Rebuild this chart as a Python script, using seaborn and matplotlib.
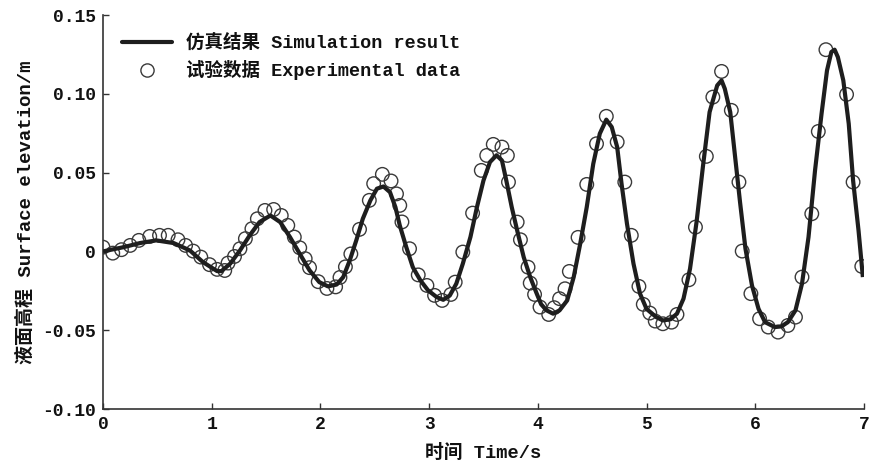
import numpy as np
import pandas as pd
import matplotlib
matplotlib.use("Agg")
import matplotlib.pyplot as plt
import seaborn as sns
from matplotlib.lines import Line2D

# ---- data ----
sim_t = [0.00, 0.19, 0.34, 0.49, 0.65, 0.80, 0.92, 1.05, 1.09, 1.17, 1.26, 1.35, 1.44, 1.54,
         1.63, 1.72, 1.81, 1.90, 1.99, 2.07, 2.15, 2.21, 2.27, 2.33, 2.39, 2.46, 2.52, 2.58,
         2.64, 2.69, 2.73, 2.79, 2.85, 2.92, 2.99, 3.07, 3.13, 3.19, 3.25, 3.31, 3.38, 3.44,
         3.50, 3.56, 3.62, 3.67, 3.71, 3.76, 3.81, 3.87, 3.93, 3.99, 4.03, 4.08, 4.14, 4.20,
         4.27, 4.33, 4.39, 4.45, 4.51, 4.57, 4.63, 4.68, 4.73, 4.77, 4.82, 4.88, 4.94, 5.00,
         5.09, 5.15, 5.22, 5.28, 5.34, 5.40, 5.46, 5.52, 5.58, 5.65, 5.69, 5.72, 5.77, 5.81,
         5.86, 5.91, 5.97, 6.03, 6.09, 6.18, 6.24, 6.30, 6.37, 6.43, 6.49, 6.55, 6.61, 6.66,
         6.70, 6.73, 6.76, 6.81, 6.86, 6.90, 6.95, 6.99]
sim_y = [0.0000, 0.0027, 0.0053, 0.0070, 0.0053, 0.0006, -0.0068, -0.0125, -0.0125, -0.0078,
         0.0006, 0.0102, 0.0186, 0.0228, 0.0186, 0.0091, -0.0015, -0.0120, -0.0195, -0.0222,
         -0.0210, -0.0163, -0.0057, 0.0070, 0.0207, 0.0324, 0.0398, 0.0412, 0.0376, 0.0281,
         0.0165, 0.0027, -0.0100, -0.0184, -0.0247, -0.0290, -0.0307, -0.0280, -0.0205, -0.0078,
         0.0091, 0.0281, 0.0450, 0.0567, 0.0610, 0.0577, 0.0450, 0.0281, 0.0133, -0.0036,
         -0.0163, -0.0268, -0.0335, -0.0374, -0.0395, -0.0374, -0.0311, -0.0163, 0.0049, 0.0281,
         0.0556, 0.0747, 0.0836, 0.0789, 0.0662, 0.0430, 0.0176, -0.0078, -0.0268, -0.0365,
         -0.0417, -0.0438, -0.0431, -0.0395, -0.0300, -0.0110, 0.0186, 0.0546, 0.0884, 0.1053,
         0.1085, 0.1032, 0.0884, 0.0630, 0.0313, 0.0017, -0.0216, -0.0364, -0.0449, -0.0480,
         -0.0476, -0.0449, -0.0374, -0.0205, 0.0091, 0.0514, 0.0874, 0.1148, 0.1265, 0.1280,
         0.1233, 0.1085, 0.0810, 0.0450, 0.0133, -0.0163]

exp_t = [0.00, 0.09, 0.17, 0.25, 0.33, 0.43, 0.52, 0.60, 0.69, 0.76, 0.83, 0.90, 0.98, 1.05,
         1.12, 1.15, 1.21, 1.26, 1.31, 1.37, 1.42, 1.49, 1.57, 1.64, 1.70, 1.76, 1.81, 1.86,
         1.90, 1.98, 2.06, 2.14, 2.18, 2.23, 2.28, 2.36, 2.45, 2.49, 2.57, 2.65, 2.70, 2.73,
         2.75, 2.82, 2.90, 2.98, 3.05, 3.12, 3.20, 3.24, 3.31, 3.40, 3.48, 3.53, 3.59, 3.67,
         3.72, 3.73, 3.81, 3.84, 3.91, 3.93, 3.97, 4.02, 4.10, 4.15, 4.20, 4.25, 4.29, 4.37,
         4.45, 4.54, 4.63, 4.73, 4.80, 4.86, 4.93, 4.97, 5.03, 5.08, 5.15, 5.23, 5.28, 5.39,
         5.45, 5.55, 5.61, 5.69, 5.78, 5.85, 5.88, 5.96, 6.04, 6.12, 6.21, 6.30, 6.37, 6.43,
         6.52, 6.58, 6.65, 6.84, 6.90, 6.98]
exp_y = [0.0027, -0.0011, 0.0011, 0.0038, 0.0070, 0.0095, 0.0102, 0.0102, 0.0074, 0.0038,
         0.0002, -0.0036, -0.0084, -0.0114, -0.0121, -0.0074, -0.0032, 0.0017, 0.0081, 0.0144,
         0.0207, 0.0260, 0.0266, 0.0228, 0.0165, 0.0091, 0.0023, -0.0046, -0.0103, -0.0192,
         -0.0235, -0.0225, -0.0165, -0.0098, -0.0016, 0.0140, 0.0324, 0.0430, 0.0489, 0.0447,
         0.0365, 0.0292, 0.0187, 0.0017, -0.0149, -0.0216, -0.0279, -0.0311, -0.0273, -0.0195,
         -0.0004, 0.0243, 0.0514, 0.0609, 0.0679, 0.0662, 0.0609, 0.0440, 0.0186, 0.0074,
         -0.0100, -0.0201, -0.0273, -0.0353, -0.0400, -0.0357, -0.0300, -0.0237, -0.0127, 0.0089,
         0.0425, 0.0683, 0.0857, 0.0694, 0.0440, 0.0102, -0.0222, -0.0336, -0.0391, -0.0442,
         -0.0459, -0.0449, -0.0400, -0.0180, 0.0154, 0.0603, 0.0979, 0.1142, 0.0895, 0.0440,
         0.0002, -0.0268, -0.0427, -0.0480, -0.0512, -0.0470, -0.0417, -0.0163, 0.0239, 0.0761,
         0.1280, 0.0996, 0.0440, -0.0095]

x_ticks = [0, 1, 2, 3, 4, 5, 6, 7]
y_ticks = [-0.10, -0.05, 0.0, 0.05, 0.10, 0.15]
y_tick_labels = ["-0.10", "-0.05", "0", "0.05", "0.10", "0.15"]
sim_label = "仿真结果 Simulation result"
exp_label = "试验数据 Experimental data"
x_label = "时间 Time/s"
y_label = "液面高程 Surface elevation/m"

# ---- style ----
sns.set_style("ticks")
FAM = ["Liberation Mono", "Noto Sans CJK SC", "DejaVu Sans"]
plt.rcParams["font.family"] = FAM
plt.rcParams["axes.unicode_minus"] = False

fig = plt.figure(figsize=(8.69, 4.69), dpi=100)
ax = fig.add_axes([0.1185, 0.1279, 0.8757, 0.8401])

sim_df = pd.DataFrame({"t": sim_t, "y": sim_y})
exp_df = pd.DataFrame({"t": exp_t, "y": exp_y})

sns.lineplot(data=sim_df, x="t", y="y", ax=ax, color="#1e1e1e", linewidth=3.0,
             estimator=None, sort=False, zorder=3, label=sim_label,
             solid_joinstyle="round", solid_capstyle="butt")
sns.scatterplot(data=exp_df, x="t", y="y", ax=ax, marker="o", s=95,
                facecolor="none", edgecolor="#3a3a3a", linewidth=1.0, zorder=2,
                label=exp_label)

ax.set_xlim(0, 7)
ax.set_ylim(-0.10, 0.15)
ax.set_xticks(x_ticks)
ax.set_xticklabels([str(v) for v in x_ticks])
ax.set_yticks(y_ticks)
ax.set_yticklabels(y_tick_labels)

for s in ["top", "right"]:
    ax.spines[s].set_visible(False)
for s in ["left", "bottom"]:
    ax.spines[s].set_color("#333333")
    ax.spines[s].set_linewidth(1.2)

ax.tick_params(axis="both", direction="in", length=4, width=1.0, color="#333333",
               labelsize=13, labelcolor="#111111", pad=5)
for lab in ax.get_xticklabels() + ax.get_yticklabels():
    lab.set_fontweight("bold")

ax.set_xlabel(x_label, fontsize=13.5, color="#111111", fontweight="bold", labelpad=8)
ax.set_ylabel(y_label, fontsize=13.7, color="#111111", fontweight="bold", labelpad=5)

handles = [Line2D([], [], color="#1e1e1e", linewidth=3.0),
           Line2D([], [], marker="o", linestyle="none", markersize=9.5,
                  markerfacecolor="none", markeredgecolor="#3a3a3a", markeredgewidth=1.0)]
leg = ax.legend(handles, [sim_label, exp_label], loc="upper left",
                bbox_to_anchor=(0.0085, 0.985), frameon=False,
                prop={"family": FAM, "size": 13.3, "weight": "bold"},
                handlelength=2.7, handletextpad=0.75, labelspacing=0.45, borderpad=0.2)
for txt in leg.get_texts():
    txt.set_color("#111111")

fig.savefig("out.png", dpi=100)
